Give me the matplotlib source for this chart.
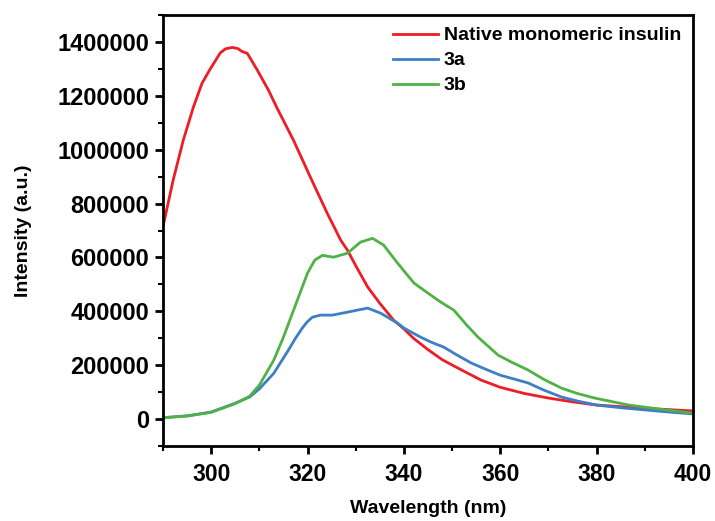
import matplotlib
matplotlib.use("Agg")
import matplotlib.pyplot as plt
from matplotlib.ticker import MultipleLocator

plt.rcParams["font.family"] = ["Liberation Sans", "DejaVu Sans"]
plt.rcParams["font.weight"] = "bold"

# Native monomeric insulin
wl_native = [290, 292.1, 294.2, 296.3, 298.1, 299.8, 301.9, 303, 304.4, 305.5, 306.4, 307.5,
             309.6, 311.9, 313.7, 317.1, 320.6, 324.1, 326.9, 328.3, 330, 332.5, 335,
             337.9, 340, 342, 345, 348, 352, 356, 360, 365, 370, 375, 380, 390, 400]
int_native = [715000, 887000, 1035000, 1158000, 1247000, 1300000, 1360000, 1375000, 1380000,
              1376000, 1365000, 1358000, 1295000, 1221000, 1154000, 1035000, 898000, 764000,
              664000, 627000, 570000, 490000, 430000, 367000, 335000, 300000, 258000,
              220000, 182000, 145000, 118000, 95000, 78000, 64000, 52000, 40000, 30000]

# 3a
wl_3a = [290, 295, 300, 305, 308, 310, 313, 316, 317.5, 319, 320, 321, 322.7, 325.2, 328.3,
         330.5, 332.5, 335.2, 338.7, 340, 343.5, 345.6, 348.3, 351, 354, 357, 360, 363,
         365.8, 369, 372.7, 376, 380, 385, 390, 395, 400]
int_3a = [5000, 12000, 26000, 59000, 82000, 112000, 170000, 255000, 300000, 340000, 362000,
          378000, 386000, 386000, 397000, 405000, 412000, 393000, 356000, 338000, 304000,
          286000, 267000, 238000, 208000, 185000, 163000, 148000, 134000, 108000, 82000,
          67000, 52000, 42000, 34000, 26000, 19000]

# 3b
wl_3b = [290, 295, 300, 305, 308, 310, 313, 315, 317.1, 320, 321.5, 323.1, 325.4, 328.3,
         331, 333.5, 335.8, 338.7, 342.1, 345.6, 347.7, 350.4, 353, 355.4, 359.6, 362.5,
         365.8, 369, 372.7, 376, 379.6, 386.7, 393, 400]
int_3b = [5000, 11000, 25000, 57000, 85000, 126000, 219000, 304000, 404000, 542000, 590000,
          608000, 601000, 616000, 657000, 671000, 646000, 579000, 505000, 460000, 434000,
          404000, 350000, 304000, 237000, 210000, 182000, 148000, 115000, 95000, 78000,
          52000, 37000, 22000]

fig = plt.figure(figsize=(7.15, 5.21), dpi=100)
ax = fig.add_axes([0.228, 0.144, 0.741, 0.827])

ax.plot(wl_native, int_native, color="#ee1c25", lw=2, label="Native monomeric insulin")
ax.plot(wl_3a, int_3a, color="#3d7fc5", lw=2, label="3a")
ax.plot(wl_3b, int_3b, color="#4fb244", lw=2, label="3b")

ax.set_xlim(290, 400)
ax.set_ylim(-100000, 1500000)
ax.xaxis.set_major_locator(MultipleLocator(20))
ax.xaxis.set_minor_locator(MultipleLocator(10))
ax.yaxis.set_minor_locator(MultipleLocator(100000))
ax.set_yticks([0, 200000, 400000, 600000, 800000, 1000000, 1200000, 1400000])
ax.set_yticklabels(["0", "200000", "400000", "600000", "800000", "1000000", "1200000", "1400000"])

for s in ax.spines.values():
    s.set_linewidth(2)
ax.tick_params(which="major", direction="out", length=6, width=2, pad=4)
ax.tick_params(axis="y", labelsize=17)
ax.tick_params(axis="x", labelsize=16.5, pad=6)
ax.tick_params(which="minor", direction="out", length=3.5, width=1.5)
ax.tick_params(top=False, right=False, which="both")

ax.set_xlabel("Wavelength (nm)", fontsize=14, fontweight="bold", labelpad=10)
ax.set_ylabel("Intensity (a.u.)", fontsize=14, fontweight="bold", labelpad=18)

leg = ax.legend(loc="upper right", frameon=False, fontsize=14, handlelength=2.3,
                handletextpad=0.3, labelspacing=0.38, borderaxespad=0.2)
for t in leg.get_texts():
    t.set_fontweight("bold")

fig.savefig("out.png", dpi=100)
